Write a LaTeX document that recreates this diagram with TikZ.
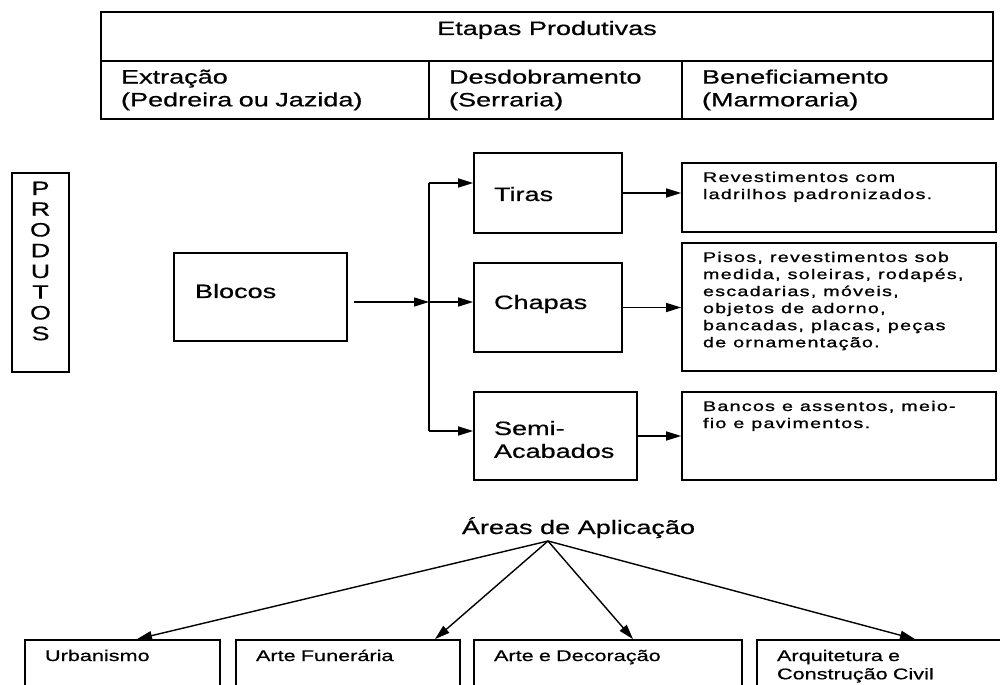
\documentclass[tikz,border=0pt]{standalone}
\usepackage{fontspec}
\setmainfont{Liberation Sans}[FakeStretch=1.4,FakeBold=0.6]
\newfontfamily\miuda{Liberation Sans}[FakeStretch=1.4,LetterSpace=9,FakeBold=1.2]
\usetikzlibrary{arrows.meta}

\begin{document}
\begin{tikzpicture}[x=0.02cm,y=-0.02cm]
\tikzstyle{caixa}=[rectangle,draw=black,line width=1pt,inner sep=0pt,font=\fontsize{11}{13}\selectfont]
\tikzstyle{celula}=[caixa,align=left,inner xsep=0.4cm,minimum height=1.16cm]
\tikzstyle{produto}=[caixa,align=left,inner xsep=0.4cm]
\tikzstyle{uso}=[caixa,align=left,inner xsep=0.42cm,minimum width=6.28cm,text width=5.44cm,text height=0.38cm,font=\miuda\fontsize{8}{9.7}\selectfont,execute at begin node={\spaceskip=0.5em plus 0.1em\relax}]
\tikzstyle{area}=[caixa,align=left,inner xsep=0.4cm,text height=0.42cm,text depth=0.78cm,font=\fontsize{8.8}{10.4}\selectfont]
\tikzstyle{seta}=[line width=0.8pt,-{Triangle[length=0.3cm,width=0.18cm]}]

\clip (0,0) rectangle (1000,685);

\node[caixa,minimum width=17.84cm,text height=0.46cm,text depth=0.52cm] (etapas) at (547,36.5) {Etapas Produtivas};
\node[celula,minimum width=6.56cm,text width=5.76cm] (extracao) at (265,90) {Extração\\(Pedreira ou Jazida)};
\node[celula,minimum width=5.06cm,text width=4.26cm] (desdobramento) at (555.5,90) {Desdobramento\\(Serraria)};
\node[celula,minimum width=6.22cm,text width=5.42cm] (beneficiamento) at (837.5,90) {Beneficiamento\\(Marmoraria)};

\node[caixa,minimum width=1.14cm,text width=1.14cm,align=center,text height=0.44cm,text depth=3.54cm,font=\fontsize{11}{11.8}\selectfont] (produtos) at (40.5,272.5) {P\\R\\O\\D\\U\\T\\O\\S};

\node[produto,minimum width=3.46cm,text width=2.62cm,text height=0.9cm,text depth=0.86cm] (blocos) at (260.5,297) {Blocos};
\node[produto,minimum width=2.96cm,text width=2.16cm,text height=0.96cm,text depth=0.64cm] (tiras) at (548,193) {Tiras};
\node[produto,minimum width=2.96cm,text width=2.16cm,text height=0.92cm,text depth=0.86cm] (chapas) at (548,307.5) {Chapas};
\node[produto,minimum width=3.26cm,text width=2.46cm,text height=0.86cm,text depth=0.9cm] (semi) at (555.5,436) {Semi-\\Acabados};

\node[uso,text depth=1.0cm] (usoTiras) at (839,197.5) {Revestimentos com\\ladrilhos padronizados.};
\node[uso,text depth=2.18cm] (usoChapas) at (839,307) {Pisos, revestimentos sob\\medida, soleiras, rodapés,\\escadarias, móveis,\\objetos de adorno,\\bancadas, placas, peças\\de ornamentação.};
\node[uso,text depth=1.38cm] (usoSemi) at (839,436) {Bancos e assentos, meio-\\fio e pavimentos.};

\coordinate (barraTopo) at (429,183);
\coordinate (barraMeio) at (429,302);
\coordinate (barraBase) at (429,431);
\coordinate (saidaBlocos) at (354,302);
\draw[line width=0.8pt] (barraTopo) -- (barraBase);
\draw[seta] (saidaBlocos) -- (barraMeio);
\draw[seta] (barraTopo) -- (barraTopo -| tiras.west);
\draw[seta] (barraMeio) -- (barraMeio -| chapas.west);
\draw[seta] (barraBase) -- (barraBase -| semi.west);
\draw[seta] (tiras.east) -- (tiras.east -| usoTiras.west);
\draw[seta] (chapas.east) -- (chapas.east -| usoChapas.west);
\draw[seta] (semi.east) -- (semi.east -| usoSemi.west);

\node[font=\fontsize{11}{13}\selectfont,anchor=base] (areas) at (578.5,534) {Áreas de Aplicação};
\coordinate (apice) at (548,541);

\node[area,minimum width=3.9cm,text width=3.1cm] (urbanismo) at (122.5,670) {Urbanismo};
\node[area,minimum width=4.48cm,text width=3.68cm] (funeraria) at (348,670) {Arte Funerária};
\node[area,minimum width=5.36cm,text width=4.56cm] (decoracao) at (608,670) {Arte e Decoração};
\node[area,minimum width=5.06cm,text width=4.26cm] (arquitetura) at (883.5,670) {Arquitetura e\\Construção Civil};

\draw[seta] (apice) -- ([xshift=0.29cm]urbanismo.north);
\draw[seta] (apice) -- ([xshift=1.74cm]funeraria.north);
\draw[seta] (apice) -- ([xshift=0.5cm]decoracao.north);
\draw[seta] (apice) -- ([xshift=0.63cm]arquitetura.north);
\end{tikzpicture}
\end{document}
